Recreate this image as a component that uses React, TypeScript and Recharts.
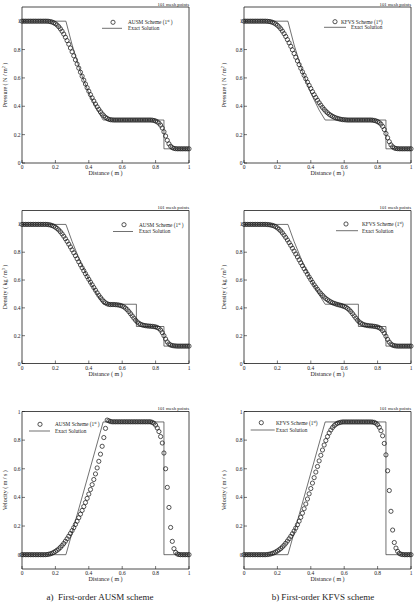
import React from "react";
import { ComposedChart, Scatter, Line, XAxis, YAxis, ReferenceArea, Legend } from "recharts";

// mesh node positions (101 points on [0, 1])
const MESH_X = [
  0, 0.01, 0.02, 0.03, 0.04, 0.05, 0.06, 0.07, 0.08, 0.09,
  0.1, 0.11, 0.12, 0.13, 0.14, 0.15, 0.16, 0.17, 0.18, 0.19,
  0.2, 0.21, 0.22, 0.23, 0.24, 0.25, 0.26, 0.27, 0.28, 0.29,
  0.3, 0.31, 0.32, 0.33, 0.34, 0.35, 0.36, 0.37, 0.38, 0.39,
  0.4, 0.41, 0.42, 0.43, 0.44, 0.45, 0.46, 0.47, 0.48, 0.49,
  0.5, 0.51, 0.52, 0.53, 0.54, 0.55, 0.56, 0.57, 0.58, 0.59,
  0.6, 0.61, 0.62, 0.63, 0.64, 0.65, 0.66, 0.67, 0.68, 0.69,
  0.7, 0.71, 0.72, 0.73, 0.74, 0.75, 0.76, 0.77, 0.78, 0.79,
  0.8, 0.81, 0.82, 0.83, 0.84, 0.85, 0.86, 0.87, 0.88, 0.89,
  0.9, 0.91, 0.92, 0.93, 0.94, 0.95, 0.96, 0.97, 0.98, 0.99,
  1,
];

const P_AUSM = [
  1, 1, 1, 1, 1, 1, 1, 1, 1, 1,
  1, 1, 1, 1, 1, 1, 0.999, 0.997, 0.994, 0.989,
  0.982, 0.973, 0.961, 0.946, 0.929, 0.909, 0.887, 0.863, 0.838, 0.811,
  0.784, 0.756, 0.727, 0.698, 0.669, 0.64, 0.612, 0.584, 0.557, 0.531,
  0.506, 0.482, 0.459, 0.437, 0.416, 0.396, 0.378, 0.361, 0.346, 0.333,
  0.322, 0.314, 0.308, 0.305, 0.304, 0.303, 0.303, 0.303, 0.303, 0.303,
  0.303, 0.303, 0.303, 0.303, 0.303, 0.303, 0.303, 0.303, 0.303, 0.303,
  0.303, 0.303, 0.303, 0.303, 0.303, 0.303, 0.303, 0.303, 0.302, 0.3,
  0.296, 0.29, 0.281, 0.267, 0.247, 0.22, 0.19, 0.16, 0.135, 0.118,
  0.108, 0.103, 0.101, 0.1, 0.1, 0.1, 0.1, 0.1, 0.1, 0.1,
  0.1,
];

const P_KFVS = [
  1, 1, 1, 1, 1, 1, 1, 1, 1, 1,
  1, 1, 1, 1, 0.999, 0.998, 0.996, 0.992, 0.987, 0.98,
  0.971, 0.96, 0.946, 0.93, 0.912, 0.892, 0.87, 0.847, 0.823, 0.798,
  0.772, 0.746, 0.72, 0.694, 0.668, 0.643, 0.618, 0.594, 0.57, 0.547,
  0.525, 0.503, 0.482, 0.462, 0.443, 0.425, 0.408, 0.392, 0.378, 0.365,
  0.354, 0.344, 0.336, 0.329, 0.323, 0.318, 0.314, 0.311, 0.308, 0.306,
  0.305, 0.304, 0.303, 0.303, 0.303, 0.303, 0.303, 0.303, 0.303, 0.303,
  0.303, 0.303, 0.303, 0.303, 0.303, 0.303, 0.303, 0.302, 0.3, 0.297,
  0.292, 0.285, 0.274, 0.258, 0.236, 0.208, 0.178, 0.15, 0.128, 0.114,
  0.106, 0.102, 0.101, 0.1, 0.1, 0.1, 0.1, 0.1, 0.1, 0.1,
  0.1,
];

const D_AUSM = [
  1, 1, 1, 1, 1, 1, 1, 1, 1, 1,
  1, 1, 1, 1, 1, 1, 0.998, 0.996, 0.992, 0.987,
  0.98, 0.971, 0.96, 0.947, 0.932, 0.915, 0.897, 0.878, 0.858, 0.838,
  0.817, 0.796, 0.775, 0.753, 0.731, 0.709, 0.688, 0.667, 0.646, 0.625,
  0.605, 0.585, 0.566, 0.546, 0.527, 0.508, 0.49, 0.474, 0.459, 0.446,
  0.436, 0.429, 0.425, 0.424, 0.424, 0.424, 0.423, 0.422, 0.42, 0.417,
  0.413, 0.407, 0.398, 0.387, 0.373, 0.358, 0.342, 0.326, 0.311, 0.299,
  0.289, 0.282, 0.277, 0.274, 0.272, 0.27, 0.269, 0.268, 0.267, 0.265,
  0.263, 0.259, 0.252, 0.24, 0.222, 0.2, 0.176, 0.155, 0.141, 0.133,
  0.129, 0.127, 0.126, 0.125, 0.125, 0.125, 0.125, 0.125, 0.125, 0.125,
  0.125,
];

const D_KFVS = [
  1, 1, 1, 1, 1, 1, 1, 1, 1, 1,
  1, 1, 1, 1, 0.999, 0.998, 0.996, 0.993, 0.989, 0.983,
  0.975, 0.965, 0.953, 0.939, 0.923, 0.906, 0.888, 0.869, 0.849, 0.829,
  0.808, 0.787, 0.766, 0.745, 0.724, 0.703, 0.682, 0.662, 0.642, 0.622,
  0.603, 0.584, 0.566, 0.549, 0.533, 0.517, 0.503, 0.49, 0.478, 0.467,
  0.458, 0.45, 0.443, 0.437, 0.432, 0.428, 0.424, 0.421, 0.418, 0.414,
  0.41, 0.404, 0.396, 0.386, 0.373, 0.358, 0.342, 0.326, 0.311, 0.299,
  0.29, 0.283, 0.278, 0.275, 0.273, 0.271, 0.27, 0.269, 0.267, 0.265,
  0.262, 0.257, 0.249, 0.236, 0.218, 0.196, 0.173, 0.154, 0.14, 0.132,
  0.128, 0.126, 0.125, 0.125, 0.125, 0.125, 0.125, 0.125, 0.125, 0.125,
  0.125,
];

const V_AUSM = [
  0, 0, 0, 0, 0, 0, 0, 0, 0, 0,
  0, 0, 0, 0, 0, 0.001, 0.003, 0.006, 0.01, 0.016,
  0.023, 0.031, 0.04, 0.051, 0.064, 0.078, 0.094, 0.111, 0.129, 0.148,
  0.168, 0.189, 0.211, 0.234, 0.258, 0.283, 0.309, 0.336, 0.364, 0.393,
  0.423, 0.455, 0.489, 0.525, 0.564, 0.606, 0.652, 0.702, 0.757, 0.818,
  0.882, 0.94, 0.935, 0.93, 0.928, 0.928, 0.928, 0.928, 0.928, 0.928,
  0.928, 0.928, 0.928, 0.928, 0.928, 0.928, 0.928, 0.928, 0.928, 0.928,
  0.928, 0.928, 0.928, 0.928, 0.928, 0.928, 0.928, 0.928, 0.924, 0.918,
  0.905, 0.885, 0.86, 0.825, 0.78, 0.71, 0.6, 0.47, 0.33, 0.19,
  0.093, 0.042, 0.016, 0.005, 0.001, 0, 0, 0, 0, 0,
  0,
];

const V_KFVS = [
  0, 0, 0, 0, 0, 0, 0, 0, 0, 0,
  0, 0, 0, 0, 0.001, 0.003, 0.005, 0.009, 0.013, 0.019,
  0.026, 0.034, 0.043, 0.054, 0.066, 0.08, 0.095, 0.111, 0.128, 0.146,
  0.165, 0.186, 0.209, 0.234, 0.261, 0.29, 0.321, 0.354, 0.389, 0.425,
  0.462, 0.5, 0.538, 0.577, 0.616, 0.655, 0.694, 0.731, 0.766, 0.797,
  0.825, 0.85, 0.871, 0.888, 0.901, 0.911, 0.918, 0.922, 0.925, 0.927,
  0.927, 0.927, 0.927, 0.927, 0.927, 0.927, 0.927, 0.927, 0.927, 0.927,
  0.927, 0.927, 0.927, 0.927, 0.927, 0.927, 0.927, 0.926, 0.924, 0.918,
  0.907, 0.89, 0.866, 0.83, 0.777, 0.697, 0.586, 0.448, 0.303, 0.172,
  0.085, 0.046, 0.023, 0.009, 0.003, 0.001, 0, 0, 0, 0,
  0,
];

// exact Riemann solution (rarefaction, contact, shock)
const EXACT_P_X = [0, 0.263, 0.3, 0.35, 0.4, 0.45, 0.486, 0.85, 0.85, 1];
const EXACT_P = [1, 1, 0.833, 0.644, 0.493, 0.373, 0.303, 0.303, 0.1, 0.1];
const EXACT_D_X = [0, 0.263, 0.3, 0.35, 0.4, 0.45, 0.486, 0.685, 0.685, 0.85, 0.85, 1];
const EXACT_D = [1, 1, 0.877, 0.73, 0.603, 0.494, 0.426, 0.426, 0.266, 0.266, 0.125, 0.125];
const EXACT_V_X = [0, 0.263, 0.486, 0.85, 0.85, 1];
const EXACT_V = [0, 0, 0.927, 0.927, 0, 0];

const X_TICKS = [0, 0.2, 0.4, 0.6, 0.8, 1];
const Y_TICKS = [0, 0.2, 0.4, 0.6, 0.8, 1];

const INK = "#1c1c1c";
const FONT = '"Liberation Serif", "Times New Roman", serif';
const AXW = 16;
const AXH = 16;

const pts = (xs: number[], ys: number[]) => xs.map((x, i) => ({ x, y: ys[i] }));

const Ring = (props: any) => (
  <circle cx={props.cx} cy={props.cy} r={2.1} fill="none" stroke={INK} strokeWidth={0.75} />
);

const XTick = (props: any) => {
  const { x, y, payload } = props;
  return (
    <g>
      <line x1={x} x2={x} y1={y} y2={y - 3} stroke={INK} strokeWidth={0.6} />
      <text x={x} y={y + 6.3} textAnchor="middle" fontSize={5.5} fill={INK}>
        {String(payload.value)}
      </text>
    </g>
  );
};

const YTick = (props: any) => {
  const { x, y, payload } = props;
  return (
    <g>
      <line x1={x} x2={x + 3} y1={y} y2={y} stroke={INK} strokeWidth={0.6} />
      <text x={x - 1.5} y={y + 2} textAnchor="end" fontSize={5.5} fill={INK}>
        {String(payload.value)}
      </text>
    </g>
  );
};

type Box = { l: number; r: number; t: number; b: number };
type Key = { cx: number; cy: number; tx: number; lx1: number; lx2: number; ly: number; ex: number };

type PanelProps = {
  left: number;
  top: number;
  width: number;
  height: number;
  plot: Box;
  titleGap: number;
  yDomain: [number, number];
  quantity: string;
  unit: string;
  power?: string;
  scheme: string;
  gap: string;
  legend: Key;
  num: { x: number; y: number }[];
  exact: { x: number; y: number }[];
};

function Panel(p: PanelProps) {
  const margin = {
    top: p.plot.t - p.top,
    left: p.plot.l - p.left - AXW,
    right: p.left + p.width - p.plot.r,
    bottom: p.top + p.height - p.plot.b - AXH,
  };
  const L = (v: number) => v - p.left;
  const T = (v: number) => v - p.top;
  const k = p.legend;

  const xTitle = (lp: any) => {
    const vb = lp.viewBox;
    return (
      <text x={vb.x + vb.width / 2} y={vb.y + 12} textAnchor="middle" fontSize={6} fill={INK}>
        Distance ( m )
      </text>
    );
  };

  const yTitle = (lp: any) => {
    const vb = lp.viewBox;
    const cx = vb.x + vb.width - p.titleGap;
    const cy = vb.y + vb.height / 2;
    return (
      <text
        x={cx}
        y={cy}
        transform={`rotate(-90 ${cx} ${cy})`}
        textAnchor="middle"
        dominantBaseline="central"
        fontSize={6}
        fill={INK}
      >
        <tspan fill={INK}>{`${p.quantity} ( ${p.unit}`}</tspan>
        {p.power && (
          <tspan dy={-2} fontSize={4} fill={INK}>
            {p.power}
          </tspan>
        )}
        <tspan dy={p.power ? 2 : 0} fill={INK}>{" )"}</tspan>
      </text>
    );
  };

  const overlay = () => (
    <svg width={p.width} height={p.height} style={{ display: "block", fontFamily: FONT }}>
      <text x={L(p.plot.r)} y={T(p.plot.t) - 1.5} textAnchor="end" fontSize={4.8} fill={INK}>
        101 mesh points
      </text>
      <circle cx={L(k.cx)} cy={T(k.cy)} r={2.1} fill="none" stroke={INK} strokeWidth={0.75} />
      <text x={L(k.tx)} y={T(k.cy) + 1.8} fontSize={5.3} fill={INK}>
        <tspan fill={INK}>{`${p.scheme} Scheme (1`}</tspan>
        <tspan dy={-1.8} fontSize={3.5} fill={INK}>st</tspan>
        <tspan dy={1.8} fill={INK}>{`${p.gap})`}</tspan>
      </text>
      <line x1={L(k.lx1)} x2={L(k.lx2)} y1={T(k.ly)} y2={T(k.ly)} stroke="#333" strokeWidth={0.7} />
      <text x={L(k.ex)} y={T(k.ly) + 1.8} fontSize={5.3} fill={INK}>
        Exact Solution
      </text>
    </svg>
  );

  return (
    <div style={{ position: "absolute", left: p.left, top: p.top }}>
      <ComposedChart width={p.width} height={p.height} margin={margin}>
        <XAxis
          type="number"
          dataKey="x"
          domain={[0, 1]}
          ticks={X_TICKS}
          interval={0}
          height={AXH}
          axisLine={false}
          tickLine={false}
          tickSize={0}
          tickMargin={0}
          tick={(tp: any) => <XTick {...tp} />}
          label={xTitle}
        />
        <YAxis
          type="number"
          dataKey="y"
          domain={p.yDomain}
          ticks={Y_TICKS}
          interval={0}
          width={AXW}
          axisLine={false}
          tickLine={false}
          tickSize={0}
          tickMargin={0}
          tick={(tp: any) => <YTick {...tp} />}
          label={yTitle}
          allowDataOverflow
        />
        <ReferenceArea
          x1={0}
          x2={1}
          y1={p.yDomain[0]}
          y2={p.yDomain[1]}
          fill="none"
          stroke={INK}
          strokeWidth={0.8}
          ifOverflow="visible"
        />
        <Line
          data={p.exact}
          dataKey="y"
          type="linear"
          stroke="#333"
          strokeWidth={0.7}
          dot={false}
          activeDot={false}
          isAnimationActive={false}
        />
        <Scatter data={p.num} dataKey="y" shape={Ring} isAnimationActive={false} />
        <Legend
          layout="horizontal"
          verticalAlign="middle"
          wrapperStyle={{ left: 0, top: 0, width: p.width, height: p.height, pointerEvents: "none" }}
          content={overlay}
        />
      </ComposedChart>
    </div>
  );
}

const LEFT = { left: 0, width: 200, l: 22, r: 189, titleGap: 17.5 };
const RIGHT = { left: 213, width: 205, l: 244, r: 411, titleGap: 20.5 };
const ROW1 = { top: 0, height: 190, t: 7, b: 163, yDomain: [0, 1.1] as [number, number] };
const ROW2 = { top: 195, height: 195, t: 210.5, b: 363.5, yDomain: [0, 1.1] as [number, number] };
const ROW3 = { top: 395, height: 195, t: 411.5, b: 569, yDomain: [-0.1, 1] as [number, number] };

function place(col: typeof LEFT, row: typeof ROW1) {
  return {
    left: col.left,
    width: col.width,
    top: row.top,
    height: row.height,
    titleGap: col.titleGap,
    plot: { l: col.l, r: col.r, t: row.t, b: row.b },
    yDomain: row.yDomain,
  };
}

export default function App() {
  return (
    <div
      style={{
        position: "absolute",
        left: 0,
        top: 0,
        width: 418,
        height: 604,
        background: "#fff",
        fontFamily: FONT,
        color: INK,
      }}
    >
      <Panel
        {...place(LEFT, ROW1)}
        quantity="Pressure"
        unit="N / m"
        power="2"
        scheme="AUSM"
        gap=" "
        legend={{ cx: 113, cy: 22.3, tx: 128, lx1: 102, lx2: 122, ly: 28.3, ex: 128 }}
        num={pts(MESH_X, P_AUSM)}
        exact={pts(EXACT_P_X, EXACT_P)}
      />
      <Panel
        {...place(RIGHT, ROW1)}
        quantity="Pressure"
        unit="N / m"
        power="2"
        scheme="KFVS"
        gap=""
        legend={{ cx: 335, cy: 21.7, tx: 341, lx1: 324, lx2: 346, ly: 27.3, ex: 351 }}
        num={pts(MESH_X, P_KFVS)}
        exact={pts(EXACT_P_X, EXACT_P)}
      />
      <Panel
        {...place(LEFT, ROW2)}
        quantity="Density"
        unit="kg / m"
        power="3"
        scheme="AUSM"
        gap=" "
        legend={{ cx: 124, cy: 224.7, tx: 139, lx1: 113, lx2: 133, ly: 231.5, ex: 139 }}
        num={pts(MESH_X, D_AUSM)}
        exact={pts(EXACT_D_X, EXACT_D)}
      />
      <Panel
        {...place(RIGHT, ROW2)}
        quantity="Density"
        unit="kg / m"
        power="3"
        scheme="KFVS"
        gap=""
        legend={{ cx: 346, cy: 224, tx: 362, lx1: 336, lx2: 358, ly: 230.7, ex: 362 }}
        num={pts(MESH_X, D_KFVS)}
        exact={pts(EXACT_D_X, EXACT_D)}
      />
      <Panel
        {...place(LEFT, ROW3)}
        quantity="Velocity"
        unit="m / s"
        scheme="AUSM"
        gap=" "
        legend={{ cx: 40, cy: 424.3, tx: 55, lx1: 29, lx2: 50, ly: 431, ex: 55 }}
        num={pts(MESH_X, V_AUSM)}
        exact={pts(EXACT_V_X, EXACT_V)}
      />
      <Panel
        {...place(RIGHT, ROW3)}
        quantity="Velocity"
        unit="m / s"
        scheme="KFVS"
        gap=""
        legend={{ cx: 261.3, cy: 422.7, tx: 276, lx1: 250.7, lx2: 274.7, ly: 430, ex: 276 }}
        num={pts(MESH_X, V_KFVS)}
        exact={pts(EXACT_V_X, EXACT_V)}
      />
      <div style={{ position: "absolute", left: 0, top: 592, width: 200, textAlign: "center", fontSize: 9, lineHeight: "11px", whiteSpace: "pre" }}>
        {"a)  First-order AUSM scheme"}
      </div>
      <div style={{ position: "absolute", left: 223, top: 592, width: 200, textAlign: "center", fontSize: 9, lineHeight: "11px", whiteSpace: "pre" }}>
        {"b) First-order KFVS scheme"}
      </div>
    </div>
  );
}
